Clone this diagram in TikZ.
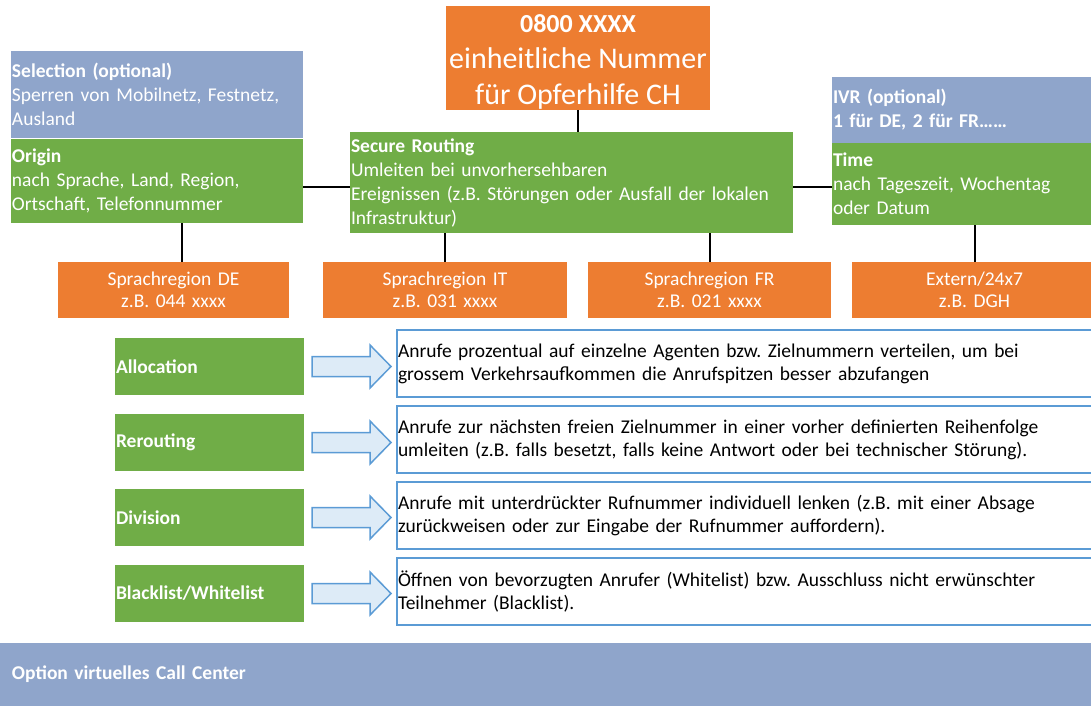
\documentclass[tikz,border=0pt]{standalone}
\usepackage{fontspec}
\setmainfont{Carlito}
\frenchspacing
\definecolor{orng}{HTML}{ED7D31}
\definecolor{grn}{HTML}{70AD47}
\definecolor{bgr}{HTML}{8FA5CB}
\definecolor{lblue}{HTML}{5B9BD5}
\definecolor{pale}{HTML}{DDEBF7}
\tikzset{
  box/.style={anchor=north west, inner ysep=0pt, inner xsep=1pt, outer sep=0pt, text=white, align=left,
    font=\fontsize{19.5}{24}\selectfont},
  obox/.style={box, fill=orng, align=center, font=\fontsize{19.5}{22.5}\selectfont},
  gbox/.style={box, fill=grn},
  bbox/.style={box, fill=bgr},
  tbox/.style={box, draw=lblue, line width=2pt, fill=white, text=black, inner xsep=1pt,
    font=\fontsize{19.5}{23}\selectfont},
  conn/.style={draw=black, line width=2pt},
  blockarrow/.pic={\draw[draw=lblue, fill=pale, line width=1.5pt, line join=miter]
     (0,-10) -- (58,-10) -- (58,-21.5) -- (79,0) -- (58,21.5) -- (58,10) -- (0,10) -- cycle;}
}
\begin{document}
\begin{tikzpicture}[x=1pt,y=-1pt]
\useasboundingbox (0,0) rectangle (1091,706);
\clip (0,0) rectangle (1091,706);
% top
\node[obox, minimum width=264pt, minimum height=104pt] (top) at (446,6) {};
\node[text=white, align=center, inner sep=0pt, font=\fontsize{30}{36}\selectfont] (toptext) at ([yshift=-3.5pt]top.center)
  {{\fontsize{26}{36}\selectfont\bfseries 0800 XXXX}\\einheitliche Nummer\\für Opferhilfe CH};
% left column
\node[bbox, minimum width=292pt, minimum height=87pt, text width=290pt] (sel) at (11,51)
  {\textbf{Selection (optional)}\\Sperren von Mobilnetz, Festnetz,\\Ausland};
\node[gbox, minimum width=292pt, minimum height=84pt, text width=290pt] (origin) at (11,139)
  {\textbf{Origin}\\nach Sprache, Land, Region,\\Ortschaft, Telefonnummer};
% middle
\node[gbox, minimum width=443pt, minimum height=101pt, text width=441pt] (secure) at (350,132)
  {\textbf{Secure Routing}\\Umleiten bei unvorhersehbaren\\Ereignissen (z.B. Störungen oder Ausfall der lokalen\\Infrastruktur)};
% right column
\node[bbox, minimum width=265pt, minimum height=66pt, text width=263pt] (ivr) at (832,77)
  {\textbf{IVR (optional)}\\\textbf{1 für DE, 2 für FR……}};
\node[gbox, minimum width=265pt, minimum height=82pt, text width=263pt] (time) at (832,143)
  {\textbf{Time}\\nach Tageszeit, Wochentag\\oder Datum};
% orange row
\node[obox, minimum width=231pt, minimum height=56pt, text width=229pt] (de) at (58,262)
  {Sprachregion DE\\z.B. 044 xxxx};
\node[obox, minimum width=244pt, minimum height=56pt, text width=242pt] (it) at (323,262)
  {Sprachregion IT\\z.B. 031 xxxx};
\node[obox, minimum width=243pt, minimum height=56pt, text width=241pt] (fr) at (588,262)
  {Sprachregion FR\\z.B. 021 xxxx};
\node[obox, minimum width=245pt, minimum height=56pt, text width=243pt] (ext) at (852,262)
  {Extern/24x7\\z.B. DGH};
% connectors
\coordinate (hl) at (0,187);
\coordinate (vde) at (182,0);
\draw[conn] (top.south) -- (top.south |- secure.north);
\draw[conn] (origin.east |- hl) -- (secure.west |- hl);
\draw[conn] (secure.east |- hl) -- (time.west |- hl);
\draw[conn] (origin.south -| vde) -- (de.north -| vde);
\draw[conn] (secure.south -| it.north) -- (it.north);
\draw[conn] (secure.south -| fr.north) -- (fr.north);
\draw[conn] (time.south -| ext.north) -- (ext.north);
% feature rows
\foreach \name/\lab/\gy/\ty/\txt in {
  a/Allocation/338/330/{Anrufe prozentual auf einzelne Agenten bzw. Zielnummern verteilen, um bei\\grossem Verkehrsaufkommen die Anrufspitzen besser abzufangen},
  b/Rerouting/414/406/{Anrufe zur nächsten freien Zielnummer in einer vorher definierten Reihenfolge\\umleiten (z.B. falls besetzt, falls keine Antwort oder bei technischer Störung).},
  c/Division/489/482/{Anrufe mit unterdrückter Rufnummer individuell lenken (z.B. mit einer Absage\\zurückweisen oder zur Eingabe der Rufnummer auffordern).},
  d/Blacklist\slash Whitelist/565/558/{Öffnen von bevorzugten Anrufer (Whitelist) bzw. Ausschluss nicht erwünschter\\Teilnehmer (Blacklist).}} {
  \node[gbox, minimum width=189pt, minimum height=57pt, text width=187pt, font=\fontsize{19.5}{24}\selectfont\bfseries] (g\name) at (115,\gy) {\lab};
  \node[tbox, minimum width=700pt, minimum height=67pt, text width=698pt] (t\name) at (397,\ty) {\txt};
  \pic at ([xshift=8pt]g\name.east) {blockarrow};
}
% banner
\node[bbox, minimum width=1091pt, minimum height=63pt, text width=1067pt, inner xsep=12pt, font=\fontsize{19.5}{24}\selectfont\bfseries] (banner) at (0,643)
  {Option virtuelles Call Center};
\end{tikzpicture}
\end{document}
